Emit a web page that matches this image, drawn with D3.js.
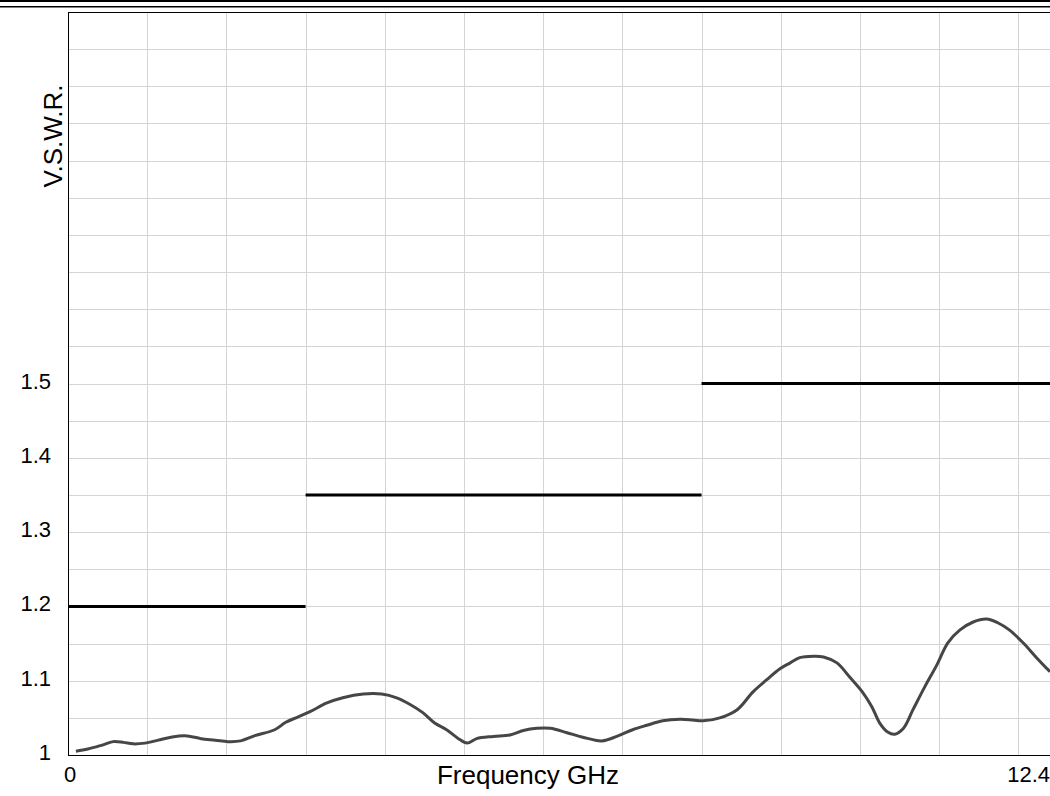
<!DOCTYPE html>
<html>
<head>
<meta charset="utf-8">
<script src="https://cdn.jsdelivr.net/npm/d3@7"></script>
<style>
  body { margin: 0; background: #fff; }
  svg { display: block; font-family: "Liberation Sans", Arial, sans-serif; }
</style>
</head>
<body>
<svg id="chart" width="1050" height="796"></svg>
<script>
// measured VSWR vs frequency (GHz)
const freq = [0.10, 0.25, 0.42, 0.57, 0.70, 0.82, 0.97, 1.14, 1.30, 1.48, 1.68, 1.86, 2.02, 2.18, 2.36, 2.61, 2.75,
  2.90, 3.05, 3.27, 3.47, 3.73, 3.96, 4.15, 4.32, 4.48, 4.63, 4.78, 4.93, 5.04, 5.16, 5.37, 5.58, 5.75, 5.92,
  6.09, 6.30, 6.50, 6.74, 6.93, 7.13, 7.31, 7.51, 7.73, 7.89, 8.02, 8.23, 8.45, 8.65, 8.82, 8.99, 9.12, 9.24,
  9.41, 9.54, 9.71, 9.87, 10.03, 10.15, 10.25, 10.35, 10.44, 10.55, 10.67, 10.82, 10.97, 11.11, 11.26, 11.43,
  11.60, 11.74, 11.89, 12.06, 12.23, 12.40];
const vswr = [1.005, 1.008, 1.013, 1.018, 1.017, 1.015, 1.016, 1.020, 1.024, 1.026, 1.022, 1.020, 1.018, 1.019, 1.026, 1.034, 1.044,
  1.051, 1.058, 1.070, 1.077, 1.082, 1.082, 1.077, 1.068, 1.057, 1.043, 1.034, 1.022, 1.016, 1.022, 1.025, 1.027, 1.033, 1.036,
  1.036, 1.030, 1.024, 1.019, 1.025, 1.034, 1.040, 1.046, 1.048, 1.047, 1.046, 1.050, 1.061, 1.085, 1.101, 1.116, 1.124, 1.131,
  1.133, 1.132, 1.124, 1.105, 1.085, 1.065, 1.043, 1.031, 1.028, 1.036, 1.061, 1.092, 1.121, 1.151, 1.168, 1.179,
  1.183, 1.178, 1.168, 1.151, 1.131, 1.112];

// spec limit steps
const limitStart = [0, 3, 8];
const limitEnd = [3, 8, 12.4];
const limitValue = [1.2, 1.35, 1.5];

const yTicks = [1, 1.1, 1.2, 1.3, 1.4, 1.5];
const xTickLabels = ["0", "12.4"];

const margin = {left: 68, top: 12, right: 0, bottom: 41};
const width = 1050, height = 796;

const svg = d3.select("#chart");

const x = d3.scaleLinear().domain([0, 12.4]).range([margin.left, width - margin.right]);
const y = d3.scaleLinear().domain([1, 2]).range([height - margin.bottom, margin.top]);

// top double rule
svg.append("rect").attr("x", 0).attr("y", 0).attr("width", width).attr("height", 2).attr("fill", "#000");
svg.append("rect").attr("x", 0).attr("y", 6).attr("width", width).attr("height", 1.5).attr("fill", "#000");

// grid
const grid = svg.append("g").attr("stroke", "#d4d4d4").attr("stroke-width", 1);
grid.selectAll(".vg")
  .data(d3.range(1, 13))
  .enter().append("line")
  .attr("x1", d => Math.round(x(d)) + 0.5).attr("x2", d => Math.round(x(d)) + 0.5)
  .attr("y1", y(2)).attr("y2", y(1));
grid.selectAll(".hg")
  .data(d3.range(1.05, 2.0, 0.05))
  .enter().append("line")
  .attr("x1", x(0)).attr("x2", width)
  .attr("y1", d => Math.round(y(d)) + 0.5).attr("y2", d => Math.round(y(d)) + 0.5);

// frame
svg.append("line").attr("x1", x(0) + 0.5).attr("x2", x(0) + 0.5).attr("y1", y(2)).attr("y2", y(1) + 1)
  .attr("stroke", "#000");
svg.append("line").attr("x1", x(0)).attr("x2", width).attr("y1", y(2) + 0.5).attr("y2", y(2) + 0.5)
  .attr("stroke", "#000");
svg.append("line").attr("x1", x(0)).attr("x2", width).attr("y1", y(1) + 0.5).attr("y2", y(1) + 0.5)
  .attr("stroke", "#000");

// y tick labels
svg.selectAll(".yl")
  .data(yTicks)
  .enter().append("text")
  .attr("x", 51)
  .attr("y", d => y(d) + 5)
  .attr("text-anchor", "end")
  .attr("font-size", 22)
  .attr("fill", "#000")
  .text(d => d3.format("")(d));

// x tick labels
svg.append("text").attr("x", 64).attr("y", 782).attr("font-size", 22).text(xTickLabels[0]);
svg.append("text").attr("x", 1050).attr("y", 782).attr("font-size", 22).attr("text-anchor", "end").text(xTickLabels[1]);

// axis titles
svg.append("text").attr("x", 528).attr("y", 784).attr("text-anchor", "middle").attr("font-size", 26)
  .text("Frequency GHz");
svg.append("text").attr("transform", "translate(62,136) rotate(-90)").attr("text-anchor", "middle")
  .attr("font-size", 26).text("V.S.W.R.");

// limit lines
svg.selectAll(".lim")
  .data(limitValue)
  .enter().append("line")
  .attr("x1", (d, i) => x(limitStart[i]))
  .attr("x2", (d, i) => x(limitEnd[i]))
  .attr("y1", d => y(d)).attr("y2", d => y(d))
  .attr("stroke", "#000").attr("stroke-width", 3);

// measured curve
const line = d3.line()
  .x(d => x(d[0]))
  .y(d => y(d[1]))
  .curve(d3.curveCatmullRom);
svg.append("path")
  .datum(d3.zip(freq, vswr))
  .attr("d", line)
  .attr("fill", "none")
  .attr("stroke", "#464646")
  .attr("stroke-width", 3);
</script>
</body>
</html>
